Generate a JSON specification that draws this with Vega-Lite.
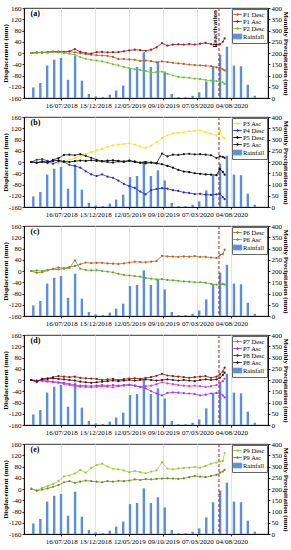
{
  "$schema": "https://vega.github.io/schema/vega-lite/v6.json",
  "padding": {"left": 0, "right": 0, "top": 3, "bottom": 0},
  "spacing": 3,
  "datasets": {
    "rain": [
      {"m": "2018-03-15", "r": 47}, {"m": "2018-04-15", "r": 67}, {"m": "2018-05-15", "r": 144}, {"m": "2018-06-15", "r": 170},
      {"m": "2018-07-15", "r": 178}, {"m": "2018-08-15", "r": 81}, {"m": "2018-09-15", "r": 188}, {"m": "2018-10-15", "r": 77},
      {"m": "2018-11-15", "r": 18}, {"m": "2018-12-15", "r": 7}, {"m": "2019-01-15", "r": 4}, {"m": "2019-02-15", "r": 15},
      {"m": "2019-03-15", "r": 33}, {"m": "2019-04-15", "r": 55}, {"m": "2019-05-15", "r": 133}, {"m": "2019-06-15", "r": 138},
      {"m": "2019-07-15", "r": 203}, {"m": "2019-08-15", "r": 138}, {"m": "2019-09-15", "r": 163}, {"m": "2019-10-15", "r": 118},
      {"m": "2019-11-15", "r": 18}, {"m": "2019-12-15", "r": 4}, {"m": "2020-01-15", "r": 4}, {"m": "2020-02-15", "r": 10},
      {"m": "2020-03-15", "r": 25}, {"m": "2020-04-15", "r": 74}, {"m": "2020-05-15", "r": 141}, {"m": "2020-06-15", "r": 193},
      {"m": "2020-07-15", "r": 228}, {"m": "2020-08-15", "r": 144}, {"m": "2020-09-15", "r": 141}, {"m": "2020-10-15", "r": 59},
      {"m": "2020-11-15", "r": 10}
    ],
    "disp": [
      {"d": "2018-03-06", "P1 Desc": 0, "P1 Asc": 0, "P2 Desc": 0, "P3 Asc": 0, "P4 Desc": 0, "P5 Desc": 0, "P5 Asc": 0, "P6 Desc": 0, "P6 Asc": 0, "P7 Desc": 0, "P7 Asc": 0, "P8 Desc": 0, "P8 Asc": 0, "P9 Desc": 2, "P9 Asc": 0},
      {"d": "2018-03-30", "P1 Desc": 1, "P1 Asc": 2, "P2 Desc": 1, "P3 Asc": 2, "P4 Desc": 8, "P5 Desc": -3, "P5 Asc": -2, "P6 Desc": -6, "P6 Asc": 2, "P7 Desc": -2, "P7 Asc": -2, "P8 Desc": -8, "P8 Asc": -4, "P9 Desc": -6, "P9 Asc": -6},
      {"d": "2018-04-23", "P1 Desc": 3, "P1 Asc": 1, "P2 Desc": 2, "P3 Asc": -2, "P4 Desc": 10, "P5 Desc": 2, "P5 Asc": 0, "P6 Desc": -4, "P6 Asc": 0, "P7 Desc": -4, "P7 Asc": 0, "P8 Desc": 4, "P8 Asc": 2, "P9 Desc": 4, "P9 Asc": -2},
      {"d": "2018-05-17", "P1 Desc": 2, "P1 Asc": 3, "P2 Desc": 1, "P3 Asc": -6, "P4 Desc": 4, "P5 Desc": 0, "P5 Asc": -3, "P6 Desc": 2, "P6 Asc": 4, "P7 Desc": -6, "P7 Asc": -4, "P8 Desc": 6, "P8 Asc": 4, "P9 Desc": 10, "P9 Asc": 2},
      {"d": "2018-06-10", "P1 Desc": 4, "P1 Asc": 5, "P2 Desc": 3, "P3 Asc": -8, "P4 Desc": -6, "P5 Desc": 4, "P5 Asc": 8, "P6 Desc": 8, "P6 Asc": 6, "P7 Desc": -8, "P7 Asc": -6, "P8 Desc": 10, "P8 Asc": 6, "P9 Desc": 18, "P9 Asc": 8},
      {"d": "2018-07-04", "P1 Desc": 5, "P1 Asc": 4, "P2 Desc": 2, "P3 Asc": -5, "P4 Desc": 2, "P5 Desc": 6, "P5 Asc": 14, "P6 Desc": 12, "P6 Asc": 5, "P7 Desc": -10, "P7 Asc": -8, "P8 Desc": 14, "P8 Asc": 4, "P9 Desc": 28, "P9 Asc": 14},
      {"d": "2018-07-28", "P1 Desc": 3, "P1 Asc": 3, "P2 Desc": 0, "P3 Asc": 2, "P4 Desc": 0, "P5 Desc": 2, "P5 Asc": 25, "P6 Desc": 10, "P6 Asc": 8, "P7 Desc": -14, "P7 Asc": -10, "P8 Desc": 12, "P8 Asc": 2, "P9 Desc": 45, "P9 Asc": 24},
      {"d": "2018-08-21", "P1 Desc": 5, "P1 Asc": 6, "P2 Desc": -3, "P3 Asc": 8, "P4 Desc": -10, "P5 Desc": 0, "P5 Asc": 26, "P6 Desc": 14, "P6 Asc": 10, "P7 Desc": -18, "P7 Asc": -14, "P8 Desc": 10, "P8 Asc": 0, "P9 Desc": 48, "P9 Asc": 28},
      {"d": "2018-09-14", "P1 Desc": 2, "P1 Asc": 14, "P2 Desc": -6, "P3 Asc": 15, "P4 Desc": -14, "P5 Desc": 3, "P5 Asc": 24, "P6 Desc": 18, "P6 Asc": 38, "P7 Desc": -22, "P7 Asc": -18, "P8 Desc": 12, "P8 Asc": -2, "P9 Desc": 55, "P9 Asc": 22},
      {"d": "2018-10-08", "P1 Desc": -1, "P1 Asc": 4, "P2 Desc": -15, "P3 Asc": 22, "P4 Desc": -20, "P5 Desc": 5, "P5 Asc": 28, "P6 Desc": 24, "P6 Asc": 8, "P7 Desc": -24, "P7 Asc": -20, "P8 Desc": 8, "P8 Asc": -6, "P9 Desc": 68, "P9 Asc": 26},
      {"d": "2018-11-01", "P1 Desc": -4, "P1 Asc": 0, "P2 Desc": -20, "P3 Asc": 28, "P4 Desc": -33, "P5 Desc": 4, "P5 Asc": 22, "P6 Desc": 30, "P6 Asc": 4, "P7 Desc": -25, "P7 Asc": -20, "P8 Desc": 6, "P8 Asc": -8, "P9 Desc": 58, "P9 Asc": 30},
      {"d": "2018-11-25", "P1 Desc": -6, "P1 Asc": -2, "P2 Desc": -24, "P3 Asc": 35, "P4 Desc": -44, "P5 Desc": 6, "P5 Asc": 15, "P6 Desc": 28, "P6 Asc": 2, "P7 Desc": -26, "P7 Asc": -22, "P8 Desc": 5, "P8 Asc": -10, "P9 Desc": 75, "P9 Asc": 28},
      {"d": "2018-12-19", "P1 Desc": -8, "P1 Asc": 3, "P2 Desc": -27, "P3 Asc": 42, "P4 Desc": -50, "P5 Desc": 4, "P5 Asc": 8, "P6 Desc": 29, "P6 Asc": 3, "P7 Desc": -24, "P7 Asc": -20, "P8 Desc": 4, "P8 Asc": -8, "P9 Desc": 85, "P9 Asc": 26},
      {"d": "2019-01-12", "P1 Desc": -9, "P1 Asc": 4, "P2 Desc": -30, "P3 Asc": 47, "P4 Desc": -44, "P5 Desc": 3, "P5 Asc": 2, "P6 Desc": 29, "P6 Asc": 0, "P7 Desc": -22, "P7 Asc": -18, "P8 Desc": 0, "P8 Asc": -6, "P9 Desc": 90, "P9 Asc": 24},
      {"d": "2019-02-05", "P1 Desc": -10, "P1 Asc": 2, "P2 Desc": -34, "P3 Asc": 53, "P4 Desc": -52, "P5 Desc": 5, "P5 Asc": 0, "P6 Desc": 27, "P6 Asc": -2, "P7 Desc": -24, "P7 Asc": -20, "P8 Desc": 2, "P8 Asc": -4, "P9 Desc": 80, "P9 Asc": 28},
      {"d": "2019-03-01", "P1 Desc": -14, "P1 Asc": 3, "P2 Desc": -40, "P3 Asc": 59, "P4 Desc": -56, "P5 Desc": 6, "P5 Asc": -2, "P6 Desc": 26, "P6 Asc": -5, "P7 Desc": -26, "P7 Asc": -18, "P8 Desc": 4, "P8 Asc": -2, "P9 Desc": 72, "P9 Asc": 26},
      {"d": "2019-03-25", "P1 Desc": -22, "P1 Asc": 3, "P2 Desc": -44, "P3 Asc": 62, "P4 Desc": -66, "P5 Desc": 4, "P5 Asc": 2, "P6 Desc": 25, "P6 Asc": -10, "P7 Desc": -22, "P7 Asc": -20, "P8 Desc": 0, "P8 Asc": -4, "P9 Desc": 70, "P9 Asc": 29},
      {"d": "2019-04-18", "P1 Desc": -21, "P1 Asc": 6, "P2 Desc": -50, "P3 Asc": 64, "P4 Desc": -78, "P5 Desc": 2, "P5 Asc": 0, "P6 Desc": 27, "P6 Asc": -14, "P7 Desc": -20, "P7 Asc": -18, "P8 Desc": 3, "P8 Asc": -2, "P9 Desc": 66, "P9 Asc": 28},
      {"d": "2019-05-12", "P1 Desc": -23, "P1 Asc": 9, "P2 Desc": -54, "P3 Asc": 66, "P4 Desc": -86, "P5 Desc": 5, "P5 Asc": 4, "P6 Desc": 30, "P6 Asc": -16, "P7 Desc": -18, "P7 Asc": -16, "P8 Desc": 5, "P8 Asc": 0, "P9 Desc": 60, "P9 Asc": 30},
      {"d": "2019-06-05", "P1 Desc": -24, "P1 Asc": 12, "P2 Desc": -58, "P3 Asc": 62, "P4 Desc": -92, "P5 Desc": 0, "P5 Asc": 2, "P6 Desc": 33, "P6 Asc": -18, "P7 Desc": -20, "P7 Asc": -20, "P8 Desc": 6, "P8 Asc": -2, "P9 Desc": 64, "P9 Asc": 34},
      {"d": "2019-06-29", "P1 Desc": -28, "P1 Asc": 10, "P2 Desc": -60, "P3 Asc": 55, "P4 Desc": -105, "P5 Desc": -2, "P5 Asc": -3, "P6 Desc": 32, "P6 Asc": -20, "P7 Desc": -24, "P7 Asc": -25, "P8 Desc": 4, "P8 Asc": 0, "P9 Desc": 60, "P9 Asc": 32},
      {"d": "2019-07-23", "P1 Desc": -27, "P1 Asc": 8, "P2 Desc": -64, "P3 Asc": 50, "P4 Desc": -115, "P5 Desc": 0, "P5 Asc": -5, "P6 Desc": 31, "P6 Asc": -25, "P7 Desc": -22, "P7 Asc": -30, "P8 Desc": 8, "P8 Asc": 2, "P9 Desc": 56, "P9 Asc": 35},
      {"d": "2019-08-16", "P1 Desc": -29, "P1 Asc": 12, "P2 Desc": -70, "P3 Asc": 58, "P4 Desc": -100, "P5 Desc": -2, "P5 Asc": -2, "P6 Desc": 33, "P6 Asc": -27, "P7 Desc": -20, "P7 Asc": -40, "P8 Desc": 10, "P8 Asc": 0, "P9 Desc": 62, "P9 Asc": 34},
      {"d": "2019-09-09", "P1 Desc": -33, "P1 Asc": 20, "P2 Desc": -68, "P3 Asc": 70, "P4 Desc": -96, "P5 Desc": -5, "P5 Asc": -4, "P6 Desc": 36, "P6 Asc": -30, "P7 Desc": -15, "P7 Asc": -48, "P8 Desc": 15, "P8 Asc": -2, "P9 Desc": 66, "P9 Asc": 36},
      {"d": "2019-10-03", "P1 Desc": -30, "P1 Asc": 35, "P2 Desc": -66, "P3 Asc": 85, "P4 Desc": -93, "P5 Desc": -8, "P5 Asc": 30, "P6 Desc": 54, "P6 Asc": -29, "P7 Desc": -8, "P7 Asc": -55, "P8 Desc": 22, "P8 Asc": 0, "P9 Desc": 95, "P9 Asc": 37},
      {"d": "2019-10-27", "P1 Desc": -32, "P1 Asc": 26, "P2 Desc": -74, "P3 Asc": 95, "P4 Desc": -95, "P5 Desc": -14, "P5 Asc": 20, "P6 Desc": 52, "P6 Asc": -32, "P7 Desc": -12, "P7 Asc": -46, "P8 Desc": 16, "P8 Asc": 2, "P9 Desc": 72, "P9 Asc": 38},
      {"d": "2019-11-20", "P1 Desc": -35, "P1 Asc": 30, "P2 Desc": -80, "P3 Asc": 102, "P4 Desc": -100, "P5 Desc": -20, "P5 Asc": 26, "P6 Desc": 51, "P6 Asc": -33, "P7 Desc": -15, "P7 Asc": -44, "P8 Desc": 14, "P8 Asc": 0, "P9 Desc": 70, "P9 Asc": 37},
      {"d": "2019-12-14", "P1 Desc": -37, "P1 Asc": 31, "P2 Desc": -85, "P3 Asc": 104, "P4 Desc": -103, "P5 Desc": -28, "P5 Asc": 25, "P6 Desc": 50, "P6 Asc": -35, "P7 Desc": -18, "P7 Asc": -45, "P8 Desc": 12, "P8 Asc": -2, "P9 Desc": 73, "P9 Asc": 36},
      {"d": "2020-01-07", "P1 Desc": -39, "P1 Asc": 30, "P2 Desc": -87, "P3 Asc": 106, "P4 Desc": -108, "P5 Desc": -34, "P5 Asc": 28, "P6 Desc": 52, "P6 Asc": -37, "P7 Desc": -20, "P7 Asc": -47, "P8 Desc": 10, "P8 Asc": 0, "P9 Desc": 75, "P9 Asc": 38},
      {"d": "2020-01-31", "P1 Desc": -41, "P1 Asc": 32, "P2 Desc": -88, "P3 Asc": 109, "P4 Desc": -110, "P5 Desc": -36, "P5 Asc": 29, "P6 Desc": 51, "P6 Asc": -38, "P7 Desc": -22, "P7 Asc": -48, "P8 Desc": 8, "P8 Asc": -2, "P9 Desc": 76, "P9 Asc": 42},
      {"d": "2020-02-24", "P1 Desc": -43, "P1 Asc": 30, "P2 Desc": -91, "P3 Asc": 111, "P4 Desc": -114, "P5 Desc": -40, "P5 Asc": 27, "P6 Desc": 53, "P6 Asc": -40, "P7 Desc": -20, "P7 Asc": -50, "P8 Desc": 10, "P8 Asc": -4, "P9 Desc": 78, "P9 Asc": 46},
      {"d": "2020-03-19", "P1 Desc": -44, "P1 Asc": 33, "P2 Desc": -93, "P3 Asc": 112, "P4 Desc": -113, "P5 Desc": -42, "P5 Asc": 28, "P6 Desc": 50, "P6 Asc": -40, "P7 Desc": -22, "P7 Asc": -55, "P8 Desc": 12, "P8 Asc": 0, "P9 Desc": 76, "P9 Asc": 44},
      {"d": "2020-04-12", "P1 Desc": -45, "P1 Asc": 36, "P2 Desc": -96, "P3 Asc": 106, "P4 Desc": -116, "P5 Desc": -44, "P5 Asc": 26, "P6 Desc": 50, "P6 Asc": -42, "P7 Desc": -25, "P7 Asc": -52, "P8 Desc": 14, "P8 Asc": 2, "P9 Desc": 82, "P9 Asc": 42},
      {"d": "2020-05-06", "P1 Desc": -47, "P1 Asc": 32, "P2 Desc": -98, "P3 Asc": 101, "P4 Desc": -117, "P5 Desc": -45, "P5 Asc": 24, "P6 Desc": 48, "P6 Asc": -46, "P7 Desc": -22, "P7 Asc": -48, "P8 Desc": 8, "P8 Asc": 0, "P9 Desc": 90, "P9 Asc": 46},
      {"d": "2020-05-30", "P1 Desc": -51, "P1 Asc": 29, "P2 Desc": -100, "P3 Asc": 94, "P4 Desc": -115, "P5 Desc": -47, "P5 Asc": 14, "P6 Desc": 46, "P6 Asc": -48, "P7 Desc": -18, "P7 Asc": -46, "P8 Desc": 12, "P8 Asc": 2, "P9 Desc": 94, "P9 Asc": 50},
      {"d": "2020-06-14", "P1 Desc": -53, "P1 Asc": 31, "P2 Desc": -101, "P3 Asc": 112, "P4 Desc": -113, "P5 Desc": -25, "P5 Asc": 20, "P6 Desc": 56, "P6 Asc": -50, "P7 Desc": -10, "P7 Asc": -48, "P8 Desc": 20, "P8 Asc": 8, "P9 Desc": 98, "P9 Asc": 58},
      {"d": "2020-06-27", "P1 Desc": -58, "P1 Asc": 40, "P2 Desc": -104, "P3 Asc": 88, "P4 Desc": -125, "P5 Desc": -35, "P5 Asc": 18, "P6 Desc": 60, "P6 Asc": -46, "P7 Desc": -4, "P7 Asc": -55, "P8 Desc": 30, "P8 Asc": 18, "P9 Desc": 100, "P9 Asc": 62},
      {"d": "2020-07-05", "P1 Desc": -62, "P1 Asc": 52, "P2 Desc": -110, "P3 Asc": 84, "P4 Desc": -132, "P5 Desc": -45, "P5 Asc": 15, "P6 Desc": 76, "P6 Asc": -48, "P7 Desc": 5, "P7 Asc": -62, "P8 Desc": 44, "P8 Asc": 26, "P9 Desc": 128, "P9 Asc": 68}
    ],
    "event": [{"event": "Reactivation", "date": "2020-06-10"}]
  },
  "config": {
    "view": {"stroke": "#000", "strokeWidth": 0.8},
    "font": "Liberation Serif",
    "axis": {"labelFont": "Liberation Serif", "titleFont": "Liberation Serif", "labelFontSize": 7, "titleFontSize": 7, "titleFontWeight": "bold", "labelColor": "#000", "titleColor": "#000", "tickColor": "#000", "domainColor": "#000", "tickSize": 2, "labelPadding": 1, "titlePadding": 0, "domainWidth": 0.8, "tickWidth": 0.8},
    "legend": {"orient": "top-right", "offset": 1, "padding": 2, "rowPadding": 0, "labelFont": "Liberation Serif", "labelFontSize": 6.5, "labelColor": "#000", "symbolSize": 28, "labelOffset": 2, "strokeColor": "#666", "fillColor": "#fff", "symbolStrokeWidth": 0.9}
  },
  "resolve": {"scale": {"color": "independent", "x": "independent", "y": "independent"}, "legend": {"color": "independent"}},
  "vconcat": [
    {
      "width": 244, "height": 90,
      "layer": [
        {"data": {"name": "rain"}, "mark": {"type": "bar", "size": 2.4},
         "encoding": {
           "x": {"field": "m", "type": "temporal", "title": null, "scale": {"domain": [{"year": 2018, "month": 2, "date": 24}, {"year": 2020, "month": 12, "date": 21}]},
                 "axis": {"values": [{"year": 2018, "month": 7, "date": 16}, {"year": 2018, "month": 12, "date": 13}, {"year": 2019, "month": 5, "date": 12}, {"year": 2019, "month": 10, "date": 9}, {"year": 2020, "month": 3, "date": 7}, {"year": 2020, "month": 8, "date": 4}], "format": "%d/%m/%Y", "grid": true, "gridColor": "#e4e4e4", "labelFlush": false}},
           "y": {"field": "r", "type": "quantitative", "scale": {"domain": [0, 400]}, "axis": {"orient": "right", "title": "Monthly Precipitation (mm)", "titlePadding": 1, "values": [0, 50, 100, 150, 200, 250, 300, 350, 400], "grid": false}},
           "color": {"datum": "Rainfall"}
         }},
        {"data": {"name": "event"}, "mark": {"type": "rule", "color": "#B22222", "strokeDash": [3, 2], "strokeWidth": 1},
         "encoding": {"x": {"field": "date", "type": "temporal", "title": null}}},
        {"data": {"name": "disp"}, "transform": [{"fold": ["P1 Desc", "P1 Asc", "P2 Desc"], "as": ["series", "v"]}],
         "mark": {"type": "line", "strokeWidth": 0.8, "point": {"size": 5, "filled": true}},
         "encoding": {
           "x": {"field": "d", "type": "temporal", "title": null},
           "y": {"field": "v", "type": "quantitative", "scale": {"domain": [-160, 160]}, "axis": {"orient": "left", "title": "Displacement (mm)", "labelExpr": "replace(datum.label, '−', '-')", "values": [-160, -120, -80, -40, 0, 40, 80, 120, 160], "grid": false}},
           "color": {"field": "series", "type": "nominal",
             "scale": {"domain": ["P1 Desc", "P1 Asc", "P2 Desc", "Rainfall"], "range": ["#B5602B", "#9B1C1C", "#6CC42A", "#5B8FDB"]},
             "legend": {"title": null, "encode": {"symbols": {"update": {
               "shape": [{"test": "datum.label === 'Rainfall'", "value": "M-1.6,-0.9H1.6V0.9H-1.6Z"}, {"value": "M-1.6,0H1.6M-0.35,0A0.35,0.35,0,1,1,0.35,0A0.35,0.35,0,1,1,-0.35,0"}],
               "fill": [{"test": "datum.label === 'Rainfall'", "value": "#5B8FDB"}, {"value": "transparent"}],
               "stroke": {"signal": "datum.label === 'P1 Desc' ? '#B5602B' : datum.label === 'P1 Asc' ? '#9B1C1C' : datum.label === 'P2 Desc' ? '#6CC42A' : '#9DBDF0'"}
             }}}}
           }
         }},
        {"data": {"values": [{"label": "(a)"}]}, "mark": {"type": "text", "align": "left", "baseline": "middle", "fontSize": 8, "fontWeight": "bold", "font": "Liberation Serif"},
         "encoding": {"x": {"datum": {"year": 2018, "month": 3, "date": 3}, "type": "temporal"}, "y": {"datum": 140, "type": "quantitative", "scale": {"domain": [-160, 160]}, "axis": null}, "text": {"field": "label"}}},
        {"data": {"name": "event"}, "mark": {"type": "text", "angle": 270, "align": "right", "baseline": "bottom", "dx": -2, "dy": -1, "fontSize": 7, "fontWeight": "bold", "font": "Liberation Serif"},
         "encoding": {"x": {"field": "date", "type": "temporal", "title": null}, "y": {"datum": 160, "type": "quantitative", "scale": {"domain": [-160, 160]}, "axis": null}, "text": {"field": "event"}}}
      ],
      "resolve": {"scale": {"y": "independent"}}
    },
    {
      "width": 244, "height": 90,
      "layer": [
        {"data": {"name": "rain"}, "mark": {"type": "bar", "size": 2.4},
         "encoding": {
           "x": {"field": "m", "type": "temporal", "title": null, "scale": {"domain": [{"year": 2018, "month": 2, "date": 24}, {"year": 2020, "month": 12, "date": 21}]},
                 "axis": {"values": [{"year": 2018, "month": 7, "date": 16}, {"year": 2018, "month": 12, "date": 13}, {"year": 2019, "month": 5, "date": 12}, {"year": 2019, "month": 10, "date": 9}, {"year": 2020, "month": 3, "date": 7}, {"year": 2020, "month": 8, "date": 4}], "format": "%d/%m/%Y", "grid": true, "gridColor": "#e4e4e4", "labelFlush": false}},
           "y": {"field": "r", "type": "quantitative", "scale": {"domain": [0, 400]}, "axis": {"orient": "right", "title": "Monthly Precipitation (mm)", "titlePadding": 1, "values": [0, 50, 100, 150, 200, 250, 300, 350, 400], "grid": false}},
           "color": {"datum": "Rainfall"}
         }},
        {"data": {"name": "event"}, "mark": {"type": "rule", "color": "#B22222", "strokeDash": [3, 2], "strokeWidth": 1},
         "encoding": {"x": {"field": "date", "type": "temporal", "title": null}}},
        {"data": {"name": "disp"}, "transform": [{"fold": ["P3 Asc", "P4 Desc", "P5 Desc", "P5 Asc"], "as": ["series", "v"]}],
         "mark": {"type": "line", "strokeWidth": 0.8, "point": {"size": 5, "filled": true}},
         "encoding": {
           "x": {"field": "d", "type": "temporal", "title": null},
           "y": {"field": "v", "type": "quantitative", "scale": {"domain": [-160, 160]}, "axis": {"orient": "left", "title": "Displacement (mm)", "labelExpr": "replace(datum.label, '−', '-')", "values": [-160, -120, -80, -40, 0, 40, 80, 120, 160], "grid": false}},
           "color": {"field": "series", "type": "nominal",
             "scale": {"domain": ["P3 Asc", "P4 Desc", "P5 Desc", "P5 Asc", "Rainfall"], "range": ["#EAEA2A", "#2A2AC8", "#000000", "#1A1A1A", "#5B8FDB"]},
             "legend": {"title": null, "encode": {"symbols": {"update": {
               "shape": [{"test": "datum.label === 'Rainfall'", "value": "M-1.6,-0.9H1.6V0.9H-1.6Z"}, {"value": "M-1.6,0H1.6M-0.35,0A0.35,0.35,0,1,1,0.35,0A0.35,0.35,0,1,1,-0.35,0"}],
               "fill": [{"test": "datum.label === 'Rainfall'", "value": "#5B8FDB"}, {"value": "transparent"}],
               "stroke": {"signal": "datum.label === 'P3 Asc' ? '#EAEA2A' : datum.label === 'P4 Desc' ? '#2A2AC8' : datum.label === 'P5 Desc' ? '#000000' : datum.label === 'P5 Asc' ? '#1A1A1A' : '#9DBDF0'"}
             }}}}
           }
         }},
        {"data": {"values": [{"label": "(b)"}]}, "mark": {"type": "text", "align": "left", "baseline": "middle", "fontSize": 8, "fontWeight": "bold", "font": "Liberation Serif"},
         "encoding": {"x": {"datum": {"year": 2018, "month": 3, "date": 3}, "type": "temporal"}, "y": {"datum": 140, "type": "quantitative", "scale": {"domain": [-160, 160]}, "axis": null}, "text": {"field": "label"}}}
      ],
      "resolve": {"scale": {"y": "independent"}}
    },
    {
      "width": 244, "height": 90,
      "layer": [
        {"data": {"name": "rain"}, "mark": {"type": "bar", "size": 2.4},
         "encoding": {
           "x": {"field": "m", "type": "temporal", "title": null, "scale": {"domain": [{"year": 2018, "month": 2, "date": 24}, {"year": 2020, "month": 12, "date": 21}]},
                 "axis": {"values": [{"year": 2018, "month": 7, "date": 16}, {"year": 2018, "month": 12, "date": 13}, {"year": 2019, "month": 5, "date": 12}, {"year": 2019, "month": 10, "date": 9}, {"year": 2020, "month": 3, "date": 7}, {"year": 2020, "month": 8, "date": 4}], "format": "%d/%m/%Y", "grid": true, "gridColor": "#e4e4e4", "labelFlush": false}},
           "y": {"field": "r", "type": "quantitative", "scale": {"domain": [0, 400]}, "axis": {"orient": "right", "title": "Monthly Precipitation (mm)", "titlePadding": 1, "values": [0, 50, 100, 150, 200, 250, 300, 350, 400], "grid": false}},
           "color": {"datum": "Rainfall"}
         }},
        {"data": {"name": "event"}, "mark": {"type": "rule", "color": "#B22222", "strokeDash": [3, 2], "strokeWidth": 1},
         "encoding": {"x": {"field": "date", "type": "temporal", "title": null}}},
        {"data": {"name": "disp"}, "transform": [{"fold": ["P6 Desc", "P6 Asc"], "as": ["series", "v"]}],
         "mark": {"type": "line", "strokeWidth": 0.8, "point": {"size": 5, "filled": true}},
         "encoding": {
           "x": {"field": "d", "type": "temporal", "title": null},
           "y": {"field": "v", "type": "quantitative", "scale": {"domain": [-160, 160]}, "axis": {"orient": "left", "title": "Displacement (mm)", "labelExpr": "replace(datum.label, '−', '-')", "values": [-160, -120, -80, -40, 0, 40, 80, 120, 160], "grid": false}},
           "color": {"field": "series", "type": "nominal",
             "scale": {"domain": ["P6 Desc", "P6 Asc", "Rainfall"], "range": ["#B8651E", "#5DAA2A", "#5B8FDB"]},
             "legend": {"title": null, "encode": {"symbols": {"update": {
               "shape": [{"test": "datum.label === 'Rainfall'", "value": "M-1.6,-0.9H1.6V0.9H-1.6Z"}, {"value": "M-1.6,0H1.6M-0.35,0A0.35,0.35,0,1,1,0.35,0A0.35,0.35,0,1,1,-0.35,0"}],
               "fill": [{"test": "datum.label === 'Rainfall'", "value": "#5B8FDB"}, {"value": "transparent"}],
               "stroke": {"signal": "datum.label === 'P6 Desc' ? '#B8651E' : datum.label === 'P6 Asc' ? '#5DAA2A' : '#9DBDF0'"}
             }}}}
           }
         }},
        {"data": {"values": [{"label": "(c)"}]}, "mark": {"type": "text", "align": "left", "baseline": "middle", "fontSize": 8, "fontWeight": "bold", "font": "Liberation Serif"},
         "encoding": {"x": {"datum": {"year": 2018, "month": 3, "date": 3}, "type": "temporal"}, "y": {"datum": 140, "type": "quantitative", "scale": {"domain": [-160, 160]}, "axis": null}, "text": {"field": "label"}}}
      ],
      "resolve": {"scale": {"y": "independent"}}
    },
    {
      "width": 244, "height": 90,
      "layer": [
        {"data": {"name": "rain"}, "mark": {"type": "bar", "size": 2.4},
         "encoding": {
           "x": {"field": "m", "type": "temporal", "title": null, "scale": {"domain": [{"year": 2018, "month": 2, "date": 24}, {"year": 2020, "month": 12, "date": 21}]},
                 "axis": {"values": [{"year": 2018, "month": 7, "date": 16}, {"year": 2018, "month": 12, "date": 13}, {"year": 2019, "month": 5, "date": 12}, {"year": 2019, "month": 10, "date": 9}, {"year": 2020, "month": 3, "date": 7}, {"year": 2020, "month": 8, "date": 4}], "format": "%d/%m/%Y", "grid": true, "gridColor": "#e4e4e4", "labelFlush": false}},
           "y": {"field": "r", "type": "quantitative", "scale": {"domain": [0, 400]}, "axis": {"orient": "right", "title": "Monthly Precipitation (mm)", "titlePadding": 1, "values": [0, 50, 100, 150, 200, 250, 300, 350, 400], "grid": false}},
           "color": {"datum": "Rainfall"}
         }},
        {"data": {"name": "event"}, "mark": {"type": "rule", "color": "#B22222", "strokeDash": [3, 2], "strokeWidth": 1},
         "encoding": {"x": {"field": "date", "type": "temporal", "title": null}}},
        {"data": {"name": "disp"}, "transform": [{"fold": ["P7 Desc", "P7 Asc", "P8 Desc", "P8 Asc"], "as": ["series", "v"]}],
         "mark": {"type": "line", "strokeWidth": 0.8, "point": {"size": 5, "filled": true}},
         "encoding": {
           "x": {"field": "d", "type": "temporal", "title": null},
           "y": {"field": "v", "type": "quantitative", "scale": {"domain": [-160, 160]}, "axis": {"orient": "left", "title": "Displacement (mm)", "labelExpr": "replace(datum.label, '−', '-')", "values": [-160, -120, -80, -40, 0, 40, 80, 120, 160], "grid": false}},
           "color": {"field": "series", "type": "nominal",
             "scale": {"domain": ["P7 Desc", "P7 Asc", "P8 Desc", "P8 Asc", "Rainfall"], "range": ["#D040D0", "#9A3BE8", "#8B1A1A", "#4A0E0E", "#5B8FDB"]},
             "legend": {"title": null, "encode": {"symbols": {"update": {
               "shape": [{"test": "datum.label === 'Rainfall'", "value": "M-1.6,-0.9H1.6V0.9H-1.6Z"}, {"value": "M-1.6,0H1.6M-0.35,0A0.35,0.35,0,1,1,0.35,0A0.35,0.35,0,1,1,-0.35,0"}],
               "fill": [{"test": "datum.label === 'Rainfall'", "value": "#5B8FDB"}, {"value": "transparent"}],
               "stroke": {"signal": "datum.label === 'P7 Desc' ? '#D040D0' : datum.label === 'P7 Asc' ? '#9A3BE8' : datum.label === 'P8 Desc' ? '#8B1A1A' : datum.label === 'P8 Asc' ? '#4A0E0E' : '#9DBDF0'"}
             }}}}
           }
         }},
        {"data": {"values": [{"label": "(d)"}]}, "mark": {"type": "text", "align": "left", "baseline": "middle", "fontSize": 8, "fontWeight": "bold", "font": "Liberation Serif"},
         "encoding": {"x": {"datum": {"year": 2018, "month": 3, "date": 3}, "type": "temporal"}, "y": {"datum": 140, "type": "quantitative", "scale": {"domain": [-160, 160]}, "axis": null}, "text": {"field": "label"}}}
      ],
      "resolve": {"scale": {"y": "independent"}}
    },
    {
      "width": 244, "height": 90,
      "layer": [
        {"data": {"name": "rain"}, "mark": {"type": "bar", "size": 2.4},
         "encoding": {
           "x": {"field": "m", "type": "temporal", "title": null, "scale": {"domain": [{"year": 2018, "month": 2, "date": 24}, {"year": 2020, "month": 12, "date": 21}]},
                 "axis": {"values": [{"year": 2018, "month": 7, "date": 16}, {"year": 2018, "month": 12, "date": 13}, {"year": 2019, "month": 5, "date": 12}, {"year": 2019, "month": 10, "date": 9}, {"year": 2020, "month": 3, "date": 7}, {"year": 2020, "month": 8, "date": 4}], "format": "%d/%m/%Y", "grid": true, "gridColor": "#e4e4e4", "labelFlush": false}},
           "y": {"field": "r", "type": "quantitative", "scale": {"domain": [0, 400]}, "axis": {"orient": "right", "title": "Monthly Precipitation (mm)", "titlePadding": 1, "values": [0, 50, 100, 150, 200, 250, 300, 350, 400], "grid": false}},
           "color": {"datum": "Rainfall"}
         }},
        {"data": {"name": "event"}, "mark": {"type": "rule", "color": "#B22222", "strokeDash": [3, 2], "strokeWidth": 1},
         "encoding": {"x": {"field": "date", "type": "temporal", "title": null}}},
        {"data": {"name": "disp"}, "transform": [{"fold": ["P9 Desc", "P9 Asc"], "as": ["series", "v"]}],
         "mark": {"type": "line", "strokeWidth": 0.8, "point": {"size": 5, "filled": true}},
         "encoding": {
           "x": {"field": "d", "type": "temporal", "title": null},
           "y": {"field": "v", "type": "quantitative", "scale": {"domain": [-160, 160]}, "axis": {"orient": "left", "title": "Displacement (mm)", "labelExpr": "replace(datum.label, '−', '-')", "values": [-160, -120, -80, -40, 0, 40, 80, 120, 160], "grid": false}},
           "color": {"field": "series", "type": "nominal",
             "scale": {"domain": ["P9 Desc", "P9 Asc", "Rainfall"], "range": ["#9ACD32", "#6B8E23", "#5B8FDB"]},
             "legend": {"title": null, "encode": {"symbols": {"update": {
               "shape": [{"test": "datum.label === 'Rainfall'", "value": "M-1.6,-0.9H1.6V0.9H-1.6Z"}, {"value": "M-1.6,0H1.6M-0.35,0A0.35,0.35,0,1,1,0.35,0A0.35,0.35,0,1,1,-0.35,0"}],
               "fill": [{"test": "datum.label === 'Rainfall'", "value": "#5B8FDB"}, {"value": "transparent"}],
               "stroke": {"signal": "datum.label === 'P9 Desc' ? '#9ACD32' : datum.label === 'P9 Asc' ? '#6B8E23' : '#9DBDF0'"}
             }}}}
           }
         }},
        {"data": {"values": [{"label": "(e)"}]}, "mark": {"type": "text", "align": "left", "baseline": "middle", "fontSize": 8, "fontWeight": "bold", "font": "Liberation Serif"},
         "encoding": {"x": {"datum": {"year": 2018, "month": 3, "date": 3}, "type": "temporal"}, "y": {"datum": 140, "type": "quantitative", "scale": {"domain": [-160, 160]}, "axis": null}, "text": {"field": "label"}}}
      ],
      "resolve": {"scale": {"y": "independent"}}
    }
  ]
}
